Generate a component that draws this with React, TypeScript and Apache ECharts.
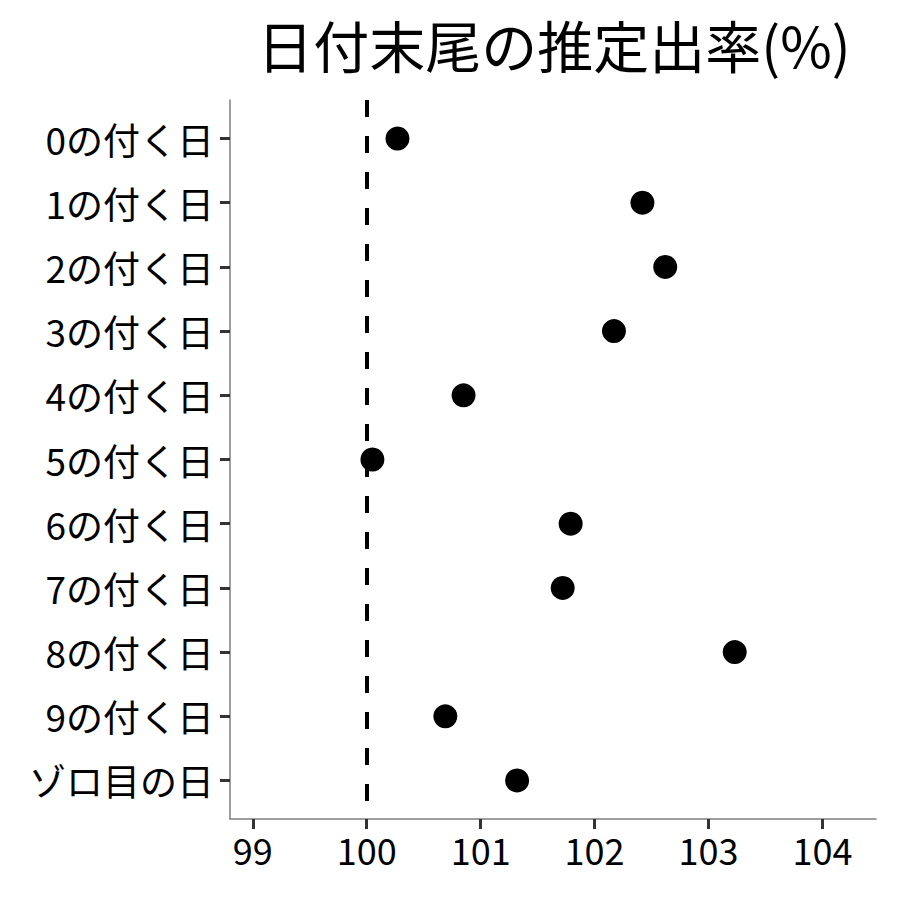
import React, { useEffect, useRef } from "react";
import * as echarts from "echarts";

const categories = [
  "0の付く日", "1の付く日", "2の付く日", "3の付く日", "4の付く日",
  "5の付く日", "6の付く日", "7の付く日", "8の付く日", "9の付く日", "ゾロ目の日",
];
const rates = [100.27, 102.42, 102.62, 102.17, 100.85, 100.05, 101.79, 101.72, 103.23, 100.69, 101.32];
const xTicks = [99, 100, 101, 102, 103, 104];
const referenceValue = 100;
const titleText = "日付末尾の推定出率(%)";

const FONT = '"Noto Sans CJK JP", "Noto Sans", sans-serif';

export default function App() {
  const ref = useRef<HTMLDivElement>(null);
  useEffect(() => {
    if (!ref.current) return;
    const chart = echarts.init(ref.current, null, { renderer: "svg" });
    const yIdx = categories.map((_, i) => i);
    chart.setOption({
      animation: false,
      backgroundColor: "#ffffff",
      textStyle: { fontFamily: FONT },
      grid: { left: 230, right: 24, top: 100, bottom: 81, containLabel: false },
      graphic: [
        {
          type: "text",
          x: 554,
          y: 43,
          style: {
            text: titleText,
            fontSize: 56,
            fontFamily: FONT,
            fill: "#000",
            textAlign: "center",
            textVerticalAlign: "middle",
          },
        },
      ],
      xAxis: {
        type: "value",
        min: 98.8,
        max: 104.47,
        splitLine: { show: false },
        axisLine: { show: true, onZero: false, lineStyle: { color: "#7f7f7f", width: 1.5 } },
        axisTick: { show: true, length: 10, lineStyle: { color: "#333", width: 3 }, customValues: xTicks },
        axisLabel: {
          customValues: xTicks,
          fontSize: 36,
          color: "#000",
          margin: 12,
          fontFamily: FONT,
        },
      },
      yAxis: {
        type: "value",
        inverse: true,
        min: -0.6,
        max: 10.6,
        splitLine: { show: false },
        axisLine: { show: true, onZero: false, lineStyle: { color: "#7f7f7f", width: 1.5 } },
        axisTick: { show: true, length: 10, lineStyle: { color: "#333", width: 3 }, customValues: yIdx },
        axisLabel: {
          customValues: yIdx,
          fontSize: 37,
          color: "#000",
          margin: 16,
          fontFamily: FONT,
          formatter: (v: number) => categories[Math.round(v)] ?? "",
        },
      },
      series: [
        {
          type: "scatter",
          data: rates.map((v, i) => [v, i]),
          symbolSize: 24,
          itemStyle: { color: "#000", opacity: 1 },
          markLine: {
            silent: true,
            symbol: "none",
            label: { show: false },
            lineStyle: { color: "#000", width: 4, type: [17, 19] },
            data: [{ xAxis: referenceValue }],
          },
        },
      ],
    });
    return () => chart.dispose();
  }, []);
  return (
    <div
      ref={ref}
      style={{ position: "fixed", left: 0, top: 0, width: 900, height: 900 }}
    />
  );
}
